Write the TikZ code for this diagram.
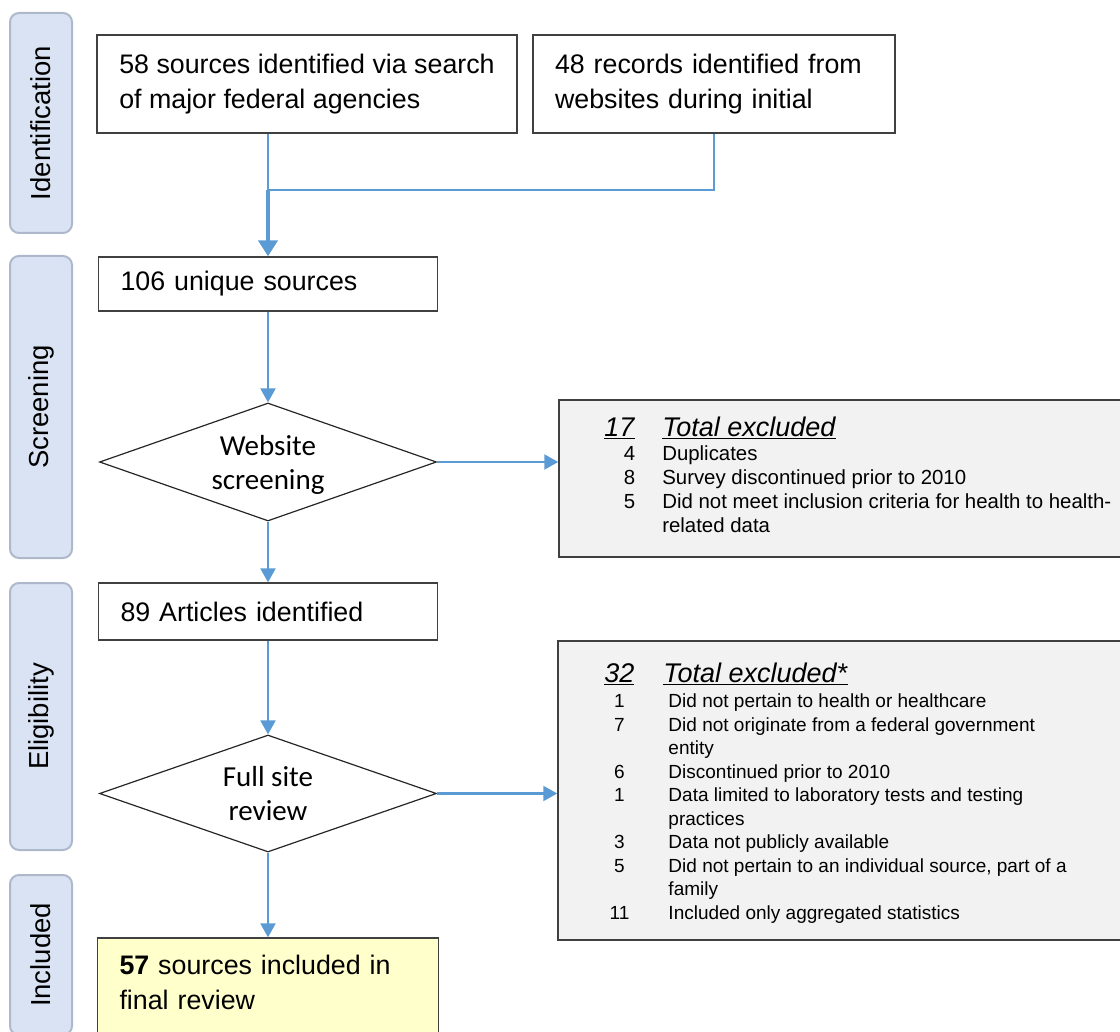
\documentclass[tikz,border=0pt]{standalone}
\usepackage{fontspec}
\setmainfont{Liberation Sans}
\newfontfamily\diafont{Carlito}
\usetikzlibrary{arrows.meta, calc, positioning, shapes.geometric}
\definecolor{flowblue}{HTML}{5B9BD5}
\definecolor{stagefill}{HTML}{DAE3F3}
\definecolor{stageline}{HTML}{ADB9CA}
\definecolor{exclfill}{HTML}{F2F2F2}
\definecolor{finalfill}{HTML}{FFFFCC}
\definecolor{boxline}{HTML}{404040}
\newcommand\headfont{\fontsize{27}{32}\selectfont}

\begin{document}
\begin{tikzpicture}[x=1pt, y=-1pt,% styles used in the chart
         > = {Triangle[width=15pt,length=14pt]},
stage/.style = {draw=stageline, fill=stagefill, line width=2pt,
                rounded corners=9pt, rotate=90, minimum height=62pt,
                inner sep=0pt, font=\fontsize{27.5}{33}\selectfont},
box/.style = {draw=boxline, line width=1.3pt, fill=white, align=left,
              inner xsep=22pt, inner ysep=0pt,
              font=\fontsize{26.8}{35}\selectfont},
decision/.style = {diamond, draw=black!85, line width=1.2pt, aspect=2.86,
                   minimum width=337pt, minimum height=118pt,
                   inner sep=0pt, align=center, text depth=0pt,
                   font=\diafont\fontsize{29}{34}\selectfont},
excl/.style = {draw=boxline, fill=exclfill, line width=1.5pt,
               inner sep=0pt},
link/.style = {draw=flowblue, line width=2.2pt},
arrow/.style = {link, ->}
                    ]
    \useasboundingbox (0,0) rectangle (1120,1032);

    % stage labels on the left
    \node[stage, minimum width=220pt] (ident)  at (41,123)   {Identification};
    \node[stage, minimum width=302pt] (screening) at (41,407) {Screening};
    \node[stage, minimum width=267pt] (elig)   at (41,716.5) {Eligibility};
    \node[stage, minimum width=160pt] (incl)   at (41,955)   {Included};

    % main column
    \node[box, minimum width=420pt, minimum height=98pt]
         (federal) at (307,84) {58 sources identified via search\\ of major federal agencies};
    \node[box, text width=318pt, minimum height=98pt]
         (websites) at (714,84) {48 records identified from\\ websites during initial};
    \node[box, text width=295pt, minimum height=54pt]
         (unique) at (268,284) {106 unique sources};
    \node[decision] (screen) at (268,462) {Website\\ screening};
    \node[box, text width=295pt, minimum height=57pt]
         (articles) at (268,611.5) {89 Articles identified};
    \node[decision, minimum height=117pt] (review) at (268,793.5) {Full site\\ review};
    \node[box, fill=finalfill, text width=297pt, minimum height=100pt, text depth=45.5pt]
         (final) at (268,988) {\textbf{57} sources included in\\ final review};

    % exclusion boxes
    \node[excl, minimum width=566pt, minimum height=157pt] (excl1) at (842,478.5) {};
    \node[excl, minimum width=567pt, minimum height=299pt] (excl2) at (841.5,790.5) {};

    \node[anchor=west, inner sep=0pt, font=\fontsize{20.4}{24}\selectfont]
         (excl1list) at ([xshift=46pt]excl1.west) {%
      \begin{tabular}{@{}r@{\hspace{27pt}}l@{}}
        \headfont\underline{\textit{17}} & \headfont\underline{\textit{Total excluded}}\\
        4 & Duplicates\\
        8 & Survey discontinued prior to 2010\\
        5 & Did not meet inclusion criteria for health to health-\\
          & related data
      \end{tabular}};

    \node[anchor=west, inner sep=0pt, yshift=-4pt, font=\fontsize{19}{23.5}\selectfont]
         (excl2list) at ([xshift=47pt]excl2.west) {%
      \begin{tabular}{@{}c@{\hspace{34pt}}l@{}}
        \headfont\underline{\textit{32}} & \hspace{-5pt}\headfont\underline{\textit{Total excluded*}}\\[2pt]
        1 & Did not pertain to health or healthcare\\
        7 & Did not originate from a federal government\\
          & entity\\
        6 & Discontinued prior to 2010\\
        1 & Data limited to laboratory tests and testing\\
          & practices\\
        3 & Data not publicly available\\
        5 & Did not pertain to an individual source, part of a\\
          & family\\
        11 & Included only aggregated statistics
      \end{tabular}};

    % connectors
    \coordinate (merge) at (268,190);
    \draw[link] (federal.south -| merge) -- (merge);
    \draw[link] (websites.south) |- (merge);
    \draw[link, line width=4pt, -{Triangle[width=19pt,length=16pt]}] (merge) -- (unique.north);

    \draw[arrow] (unique) -- (screen);
    \draw[arrow] (screen.east) -- (screen.east -| excl1.west);
    \draw[arrow] (screen) -- (articles);
    \draw[arrow] (articles) -- (review);
    \draw[arrow] (review.east) -- (review.east -| excl2.west);
    \draw[arrow] (review) -- (final);
\end{tikzpicture}
\end{document}
